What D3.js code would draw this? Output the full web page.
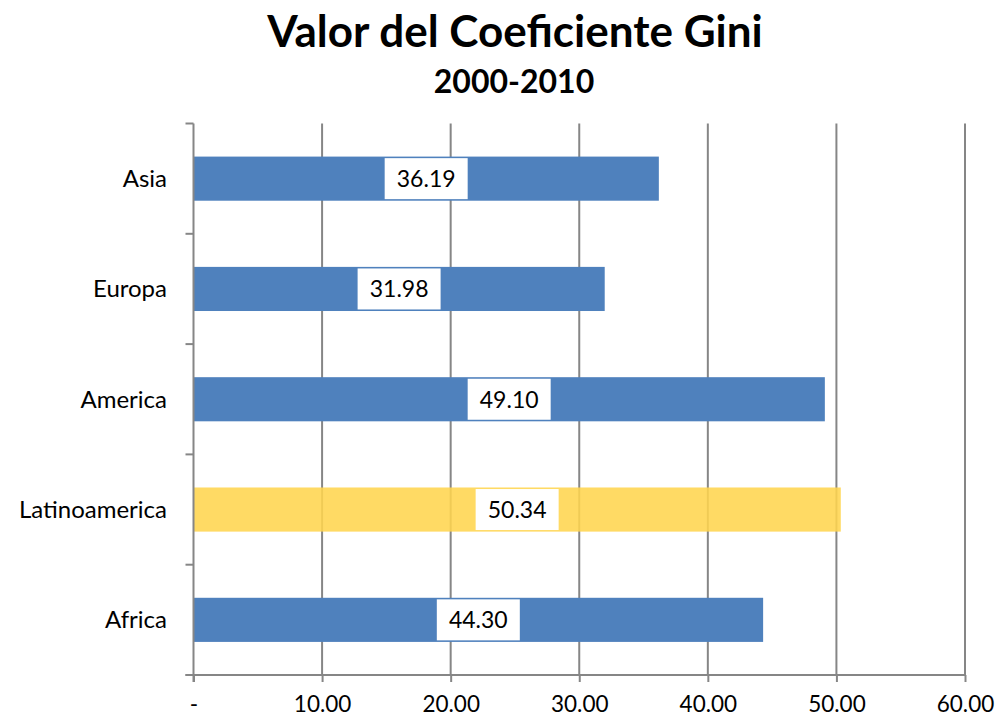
<!DOCTYPE html>
<html>
<head>
<meta charset="utf-8">
<script src="https://cdn.jsdelivr.net/npm/d3@7"></script>
<style>
  body { margin: 0; background: #fff; }
  svg { font-family: Lato, "Open Sans", sans-serif; }
</style>
</head>
<body>
<div id="chart"></div>
<script>
const regions = ["Asia", "Europa", "America", "Latinoamerica", "Africa"];
const gini = [36.19, 31.98, 49.10, 50.34, 44.30];
const highlight = ["Latinoamerica"];
const xTicks = [0, 10, 20, 30, 40, 50, 60];

const width = 1008, height = 719;
const margin = { top: 123.5, right: 43, bottom: 44, left: 193.5 };

const svg = d3.select("#chart").append("svg")
  .attr("width", width)
  .attr("height", height);

svg.append("text")
  .attr("x", 515).attr("y", 47)
  .attr("text-anchor", "middle")
  .attr("font-size", 44).attr("font-weight", "bold")
  .text("Valor del Coeficiente Gini");

svg.append("text")
  .attr("x", 514).attr("y", 93)
  .attr("text-anchor", "middle")
  .attr("font-size", 32).attr("font-weight", "bold")
  .text("2000-2010");

const x = d3.scaleLinear()
  .domain([0, 60])
  .range([margin.left, width - margin.right]);

const y = d3.scaleBand()
  .domain(regions)
  .range([margin.top, height - margin.bottom])
  .paddingInner(0.6).paddingOuter(0.3);

const grid = "#868686";

// gridlines
svg.append("g").selectAll("line")
  .data(xTicks.slice(1))
  .join("line")
  .attr("x1", d => x(d)).attr("x2", d => x(d))
  .attr("y1", margin.top).attr("y2", height - margin.bottom)
  .attr("stroke", grid).attr("stroke-width", 2);

// bars
svg.append("g").selectAll("rect")
  .data(regions)
  .join("rect")
  .attr("x", x(0))
  .attr("y", d => y(d))
  .attr("width", (d, i) => x(gini[i]) - x(0))
  .attr("height", y.bandwidth())
  .attr("fill", d => highlight.includes(d) ? "#FFD54F" : "#4F81BD")
  .attr("fill-opacity", d => highlight.includes(d) ? 0.88 : 1);

// axes
const xAxis = d3.axisBottom(x)
  .tickValues(xTicks)
  .tickSize(7)
  .tickFormat(d => d === 0 ? "-" : d3.format(".2f")(d));

const gx = svg.append("g")
  .attr("transform", `translate(0,${height - margin.bottom})`)
  .call(xAxis);
gx.select(".domain").attr("stroke", grid).attr("stroke-width", 2)
  .attr("d", `M${x(0) - 8},0H${x(60)}`);
gx.selectAll(".tick line").attr("stroke", grid).attr("stroke-width", 2);
gx.selectAll(".tick text")
  .attr("font-size", 22.5).attr("fill", "#000")
  .attr("font-family", "Lato, sans-serif")
  .attr("y", 21.5);

const yStep = y.step();
const yEdges = d3.range(regions.length + 1).map(i => margin.top + i * yStep);
const gy = svg.append("g");
gy.append("line")
  .attr("x1", x(0)).attr("x2", x(0))
  .attr("y1", margin.top).attr("y2", height - margin.bottom + 7)
  .attr("stroke", grid).attr("stroke-width", 2);
gy.selectAll(".edge")
  .data(yEdges)
  .join("line")
  .attr("class", "edge")
  .attr("x1", x(0) - 8).attr("x2", x(0))
  .attr("y1", d => d).attr("y2", d => d)
  .attr("stroke", grid).attr("stroke-width", 2);
gy.selectAll("text")
  .data(regions)
  .join("text")
  .attr("x", 167)
  .attr("y", d => y(d) + y.bandwidth() / 2)
  .attr("dy", "0.35em")
  .attr("text-anchor", "end")
  .attr("font-size", 24)
  .text(d => d);

// value labels
const lab = svg.append("g").selectAll("g")
  .data(regions)
  .join("g")
  .attr("transform", (d, i) => `translate(${(x(0) + x(gini[i])) / 2},${y(d) + y.bandwidth() / 2})`);
lab.append("rect")
  .attr("x", -41.5).attr("y", -20.5)
  .attr("width", 83).attr("height", 41)
  .attr("fill", "#fff");
lab.append("text")
  .attr("dy", "0.36em")
  .attr("text-anchor", "middle")
  .attr("font-size", 23)
  .text((d, i) => d3.format(".2f")(gini[i]));
</script>
</body>
</html>
